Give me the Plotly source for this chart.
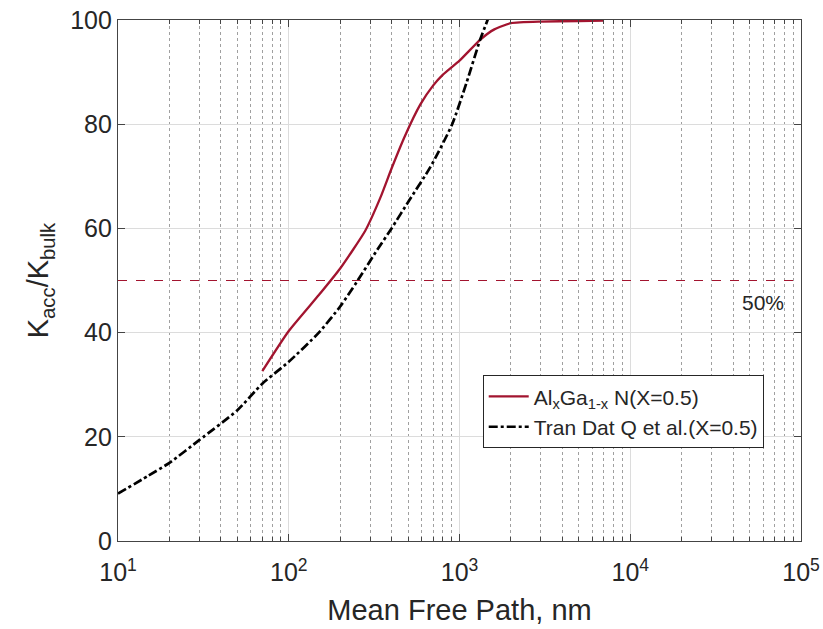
import plotly.graph_objects as go

# Accumulated thermal conductivity vs. phonon mean free path
mfp_alGaN = [70, 100, 150, 200, 280, 345, 400, 480, 590, 700, 800, 1000, 1320, 1600, 2000, 3000, 5000, 7000]
k_alGaN = [32.6, 40.3, 47.2, 52.3, 59.5, 66.0, 71.5, 77.8, 83.8, 87.4, 89.5, 92.2, 96.2, 98.2, 99.4, 99.7, 99.8, 99.9]

mfp_tran = [10, 15, 20, 30, 50, 70, 100, 150, 200, 250, 330, 400, 510, 676, 906, 1100, 1320, 1460, 1600]
k_tran = [9.1, 12.5, 15.0, 19.4, 25.1, 30.2, 34.4, 40.0, 45.0, 49.7, 55.9, 60.0, 65.5, 71.8, 80.0, 88.0, 96.2, 100.0, 104.0]

half_level = 50
x_tick_vals = [10, 100, 1000, 10000, 100000]
x_tick_text = ["10<sup>1</sup>", "10<sup>2</sup>", "10<sup>3</sup>", "10<sup>4</sup>", "10<sup>5</sup>"]
y_tick_vals = [0, 20, 40, 60, 80, 100]

RED = "#A2142F"
AX = "#444444"
TXT = "#262626"
FONT = "Liberation Sans, Arial, sans-serif"

fig = go.Figure()
fig.add_trace(go.Scatter(
    x=mfp_alGaN, y=k_alGaN, mode="lines",
    name="Al<sub>x</sub>Ga<sub>1-x</sub> N(X=0.5)",
    line=dict(color=RED, width=2.3, shape="spline", smoothing=0.5),
))
fig.add_trace(go.Scatter(
    x=mfp_tran, y=k_tran, mode="lines",
    name="Tran Dat Q et al.(X=0.5)",
    line=dict(color="black", width=2.7, dash="dashdot", shape="spline", smoothing=0.6),
))

fig.add_hline(y=half_level, line=dict(color=RED, width=1.2, dash="dash"))
fig.add_annotation(x=4.78, y=45.7, xref="x", yref="y", text="50%", showarrow=False,
                   font=dict(size=21, color=TXT, family=FONT))

fig.update_xaxes(
    type="log", range=[1, 5], automargin=False,
    tickvals=x_tick_vals, ticktext=x_tick_text,
    ticks="inside", ticklen=7, tickcolor=AX, ticklabelstandoff=9,
    showline=True, linecolor=AX, linewidth=1.3, mirror="ticks",
    showgrid=True, gridcolor="#dcdcdc", gridwidth=1,
    minor=dict(dtick="D1", ticks="inside", ticklen=4, tickcolor=AX,
               showgrid=True, gridcolor="#a0a0a0", griddash="dot", gridwidth=1),
    tickfont=dict(size=25, color=TXT),
    title=dict(text="Mean Free Path, nm", font=dict(size=29, color=TXT), standoff=14),
    zeroline=False,
)
fig.update_yaxes(
    range=[0, 100], tickvals=y_tick_vals, automargin=False,
    ticks="inside", ticklen=7, tickcolor=AX,
    showline=True, linecolor=AX, linewidth=1.3, mirror="ticks",
    showgrid=True, gridcolor="#dcdcdc", gridwidth=1,
    tickfont=dict(size=25, color=TXT),
    title=dict(text="K<sub>acc</sub>/K<sub>bulk</sub>", font=dict(size=29, color=TXT), standoff=12),
    zeroline=False,
)

fig.update_layout(
    width=823, height=629,
    margin=dict(l=118, r=22, t=20, b=88),
    plot_bgcolor="white", paper_bgcolor="white",
    font=dict(family=FONT, color=TXT),
    legend=dict(
        x=0.534, y=0.318, xanchor="left", yanchor="top",
        bgcolor="white", bordercolor=TXT, borderwidth=1,
        font=dict(size=21, color=TXT),
        tracegroupgap=0, itemwidth=40,
    ),
    showlegend=True,
)

fig.write_html("out.html")
